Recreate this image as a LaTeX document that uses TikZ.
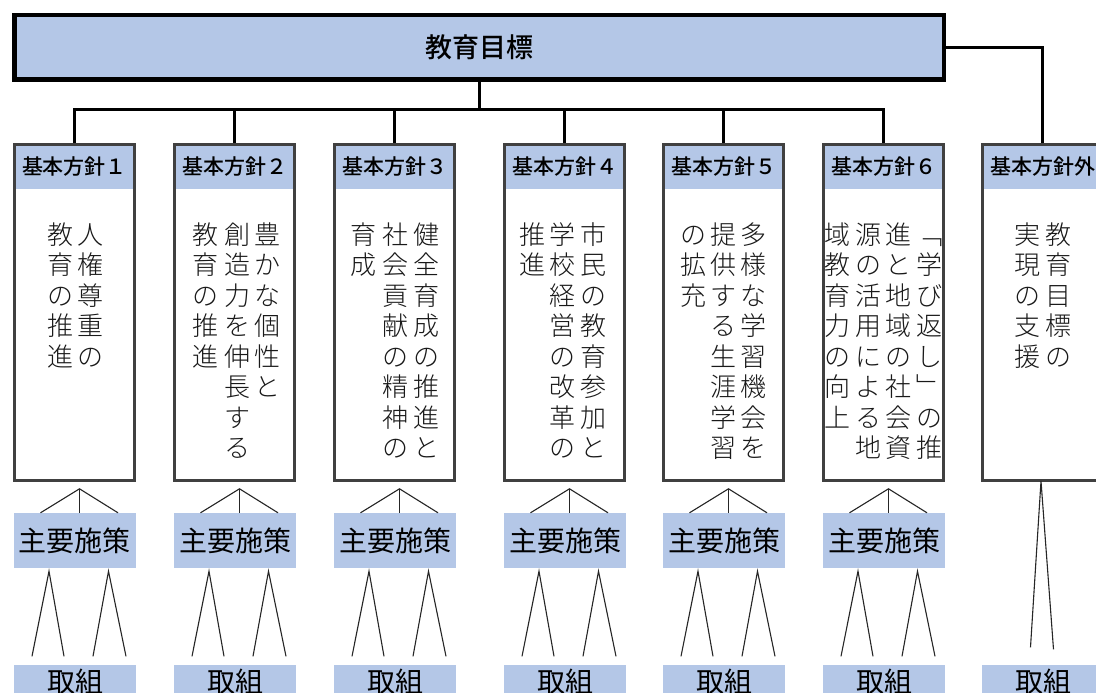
\documentclass[tikz,border=0pt]{standalone}
\usepackage{fontspec}
\setmainfont{Noto Sans CJK JP}
\IfFontExistsTF{Noto Sans CJK JP Light}{\newfontfamily\vfont{Noto Sans CJK JP Light}}{\newfontfamily\vfont{Noto Sans CJK JP}}
\IfFontExistsTF{Noto Sans CJK JP Medium}{\newfontfamily\mfont{Noto Sans CJK JP Medium}}{\newfontfamily\mfont{Noto Sans CJK JP}}
\definecolor{hdr}{HTML}{B4C7E7}
\definecolor{bord}{HTML}{404040}
\newcommand\vtext[4]{\foreach \ch [count=\k] in {#4} {\node[vchar] (#1-\k) at (#2, {#3+30.5*(\k-1)}) {\ch};}}
\begin{document}
\begin{tikzpicture}[x=1pt,y=-1pt,
  topbox/.style={draw=black, line width=4.5pt, fill=hdr, minimum width=929.5pt, minimum height=64.5pt, inner sep=0pt, font=\mfont\fontsize{27}{30}\selectfont},
  colbox/.style={draw=bord, line width=3pt, minimum width=120pt, minimum height=336pt, inner sep=0pt},
  hdrband/.style={fill=hdr, minimum width=120pt, minimum height=44.5pt, inner sep=0pt, font=\mfont\fontsize{21}{24}\selectfont},
  vchar/.style={inner sep=0pt, font=\vfont\fontsize{26}{30}\selectfont, text height=23pt, text depth=3pt, text=black!90},
  policy/.style={fill=hdr, minimum width=122pt, minimum height=55pt, inner sep=0pt, font=\fontsize{28}{30}\selectfont},
  torikumi/.style={fill=hdr, minimum width=122pt, minimum height=34pt, inner sep=0pt, font=\fontsize{28}{30}\selectfont},
  bus/.style={line width=3pt, draw=black},
  thinline/.style={line width=1.1pt, draw=black!85}
]
\useasboundingbox (0,0) rectangle (1096,693);
\clip (0,0) rectangle (1096,693);
\fill[white] (0,0) rectangle (1096,693);

\node[topbox] (top) at (479,47.5) {教育目標};

\foreach \i/\l/\lab in {1/13/１,2/173/２,3/333/３,4/503/４,5/662/５,6/822/６,7/981/外}{
  \node[hdrband] (h\i) at (\l+61.5,166.75) {基本方針\lab};
  \node[colbox] (b\i) at (\l+61.5,312.5) {};
  \node[torikumi] (t\i) at (\l+62,681.5) {取組};
}
\foreach \i/\l in {1/13,2/173,3/333,4/503,5/662,6/822}{
  \node[policy] (p\i) at (\l+62,540.5) {主要施策};
  \coordinate (a\i) at ([xshift=4.5pt,yshift=24pt]p\i.north);
  \draw[thinline] ([xshift=-34.5pt]p\i.north) -- (a\i) -- ([xshift=43pt]p\i.north);
  \draw[thinline] (a\i) -- ([xshift=4.5pt]p\i.north);
  \coordinate (l\i) at ([xshift=-26pt,yshift=-3pt]p\i.south);
  \coordinate (r\i) at ([xshift=33.5pt,yshift=-3pt]p\i.south);
  \draw[thinline] ([xshift=-43pt,yshift=8pt]t\i.north) -- (l\i) -- ([xshift=-11pt,yshift=8pt]t\i.north);
  \draw[thinline] ([xshift=18pt,yshift=8pt]t\i.north) -- (r\i) -- ([xshift=51pt,yshift=8pt]t\i.north);
}
\coordinate (a7) at ([xshift=-1.5pt,yshift=1pt]b7.south);
\draw[thinline] ([xshift=-12.5pt,yshift=17pt]t7.north) -- (a7) -- ([xshift=10.5pt,yshift=15pt]t7.north);

% connectors from goal
\coordinate (j) at (479,110);
\draw[bus] (top.south) -- (j);
\draw[bus] (b1.north) -- (b1.north |- j) -- (b6.north |- j) -- (b6.north);
\foreach \i in {2,3,4,5}{\draw[bus] (b\i.north |- j) -- (b\i.north);}
\draw[line width=2.6pt] (top.east) -| (b7.north);

% vertical texts
\vtext{v1a}{90}{234}{人,権,尊,重,の}
\vtext{v1b}{60}{234}{教,育,の,推,進}
\vtext{v2a}{267}{234}{豊,か,な,個,性,と}
\vtext{v2b}{237}{234}{創,造,力,を,伸,長,す,る}
\vtext{v2c}{205}{234}{教,育,の,推,進}
\vtext{v3a}{426}{234}{健,全,育,成,の,推,進,と}
\vtext{v3b}{395}{234}{社,会,貢,献,の,精,神,の}
\vtext{v3c}{363}{234}{育,成}
\vtext{v4a}{593}{234}{市,民,の,教,育,参,加,と}
\vtext{v4b}{562}{234}{学,校,経,営,の,改,革,の}
\vtext{v4c}{532}{234}{推,進}
\vtext{v5a}{753}{234}{多,様,な,学,習,機,会,を}
\vtext{v5b}{723}{234}{提,供,す,る,生,涯,学,習}
\vtext{v5c}{693}{234}{の,拡,充}
\vtext{v6a}{929}{234}{﹁,学,び,返,し,﹂,の,推}
\vtext{v6b}{898}{234}{進,と,地,域,の,社,会,資}
\vtext{v6c}{868}{234}{源,の,活,用,に,よ,る,地}
\vtext{v6d}{837}{234}{域,教,育,力,の,向,上}
\vtext{v7a}{1058}{234}{教,育,目,標,の}
\vtext{v7b}{1027}{234}{実,現,の,支,援}
\end{tikzpicture}
\end{document}
